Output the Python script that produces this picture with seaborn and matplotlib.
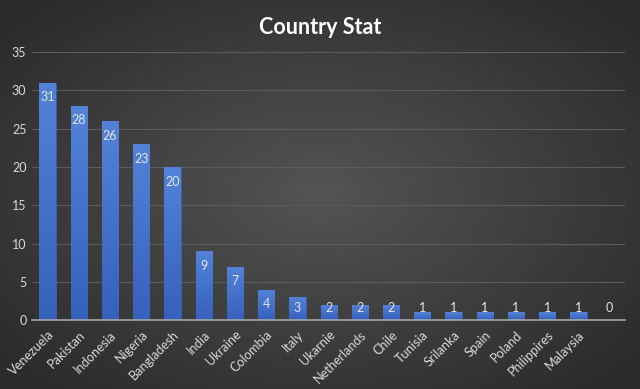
import numpy as np
import pandas as pd
import matplotlib.pyplot as plt
import seaborn as sns
from matplotlib.colors import LinearSegmentedColormap

countries = ['Venezuela', 'Pakistan', 'Indonesia', 'Nigeria', 'Bangladesh', 'India',
             'Ukraine', 'Colombia', 'Italy', 'Ukarnie', 'Netherlands', 'Chile', 'Tunisia',
             'Srilanka', 'Spain', 'Poland', 'Philippires', 'Malaysia', ' ']
counts = [31, 28, 26, 23, 20, 9, 7, 4, 3, 2, 2, 2, 1, 1, 1, 1, 1, 1, 0]
y_ticks = [0, 5, 10, 15, 20, 25, 30, 35]

df = pd.DataFrame({'country': countries, 'count': counts})

sns.set_theme(style='dark')
plt.rcParams['font.family'] = ['Lato', 'DejaVu Sans']

fig = plt.figure(figsize=(6.4, 3.89), dpi=100)

# radial dark background
bg = fig.add_axes([0, 0, 1, 1], zorder=-10)
yy, xx = np.mgrid[-1:1:389j, -1:1:640j]
r = np.sqrt(xx ** 2 + yy ** 2)
shade = 0.33 - 0.16 * np.clip(r / 1.3, 0, 1)
bg.imshow(np.dstack([shade, shade, shade]), aspect='auto', extent=[0, 1, 0, 1])
bg.axis('off')

ax = fig.add_axes([0.05, 0.177, 0.927, 0.689])
ax.set_facecolor('none')
sns.barplot(data=df, x='country', y='count', color='#4472C4', width=0.52,
            saturation=1, edgecolor='#3a62ad', linewidth=0.6, ax=ax, zorder=3)

ax.set_ylim(0, 35)
ax.set_yticks(y_ticks)
ax.set_xlim(-0.5, len(countries) - 0.5)

# vertical gradient fill on the bars
grad = LinearSegmentedColormap.from_list('bar', ['#3661bd', '#5382d8'])
for bar in ax.patches:
    h = bar.get_height()
    if h <= 0:
        continue
    x0 = bar.get_x()
    w = bar.get_width()
    im = ax.imshow(np.linspace(0, 1, 100).reshape(-1, 1), cmap=grad, origin='lower',
                   extent=[x0, x0 + w, 0, h], aspect='auto', zorder=4)
    im.set_clip_path(bar)
ax.set_xlim(-0.5, len(countries) - 0.5)
ax.set_ylim(0, 35)

ax.grid(axis='y', color='#5c5c5c', linewidth=0.8, zorder=0)
ax.grid(axis='x', visible=False)
for side in ['top', 'right', 'left']:
    ax.spines[side].set_visible(False)
ax.spines['bottom'].set_color('#a6a6a6')
ax.spines['bottom'].set_linewidth(1.2)
ax.spines['bottom'].set_zorder(6)
ax.tick_params(axis='y', colors='#d9d9d9', labelsize=9, length=0, pad=4)
ax.tick_params(axis='x', colors='#d9d9d9', labelsize=9.2, length=0, pad=6)
ax.set_xticks(range(len(countries)))
ax.set_xticklabels(countries, rotation=45, ha='right', rotation_mode='anchor')
ax.set_xlabel('')
ax.set_ylabel('')

for i, v in enumerate(counts):
    ax.text(i, max(v - 1.9, 1.6), str(v), ha='center', va='center',
            color='#e6e6e6', fontsize=9, zorder=5)

fig.text(0.5, 0.93, 'Country Stat', ha='center', va='center', color='white',
         fontsize=15.5, fontweight='bold')

fig.savefig('out.png', dpi=100)
